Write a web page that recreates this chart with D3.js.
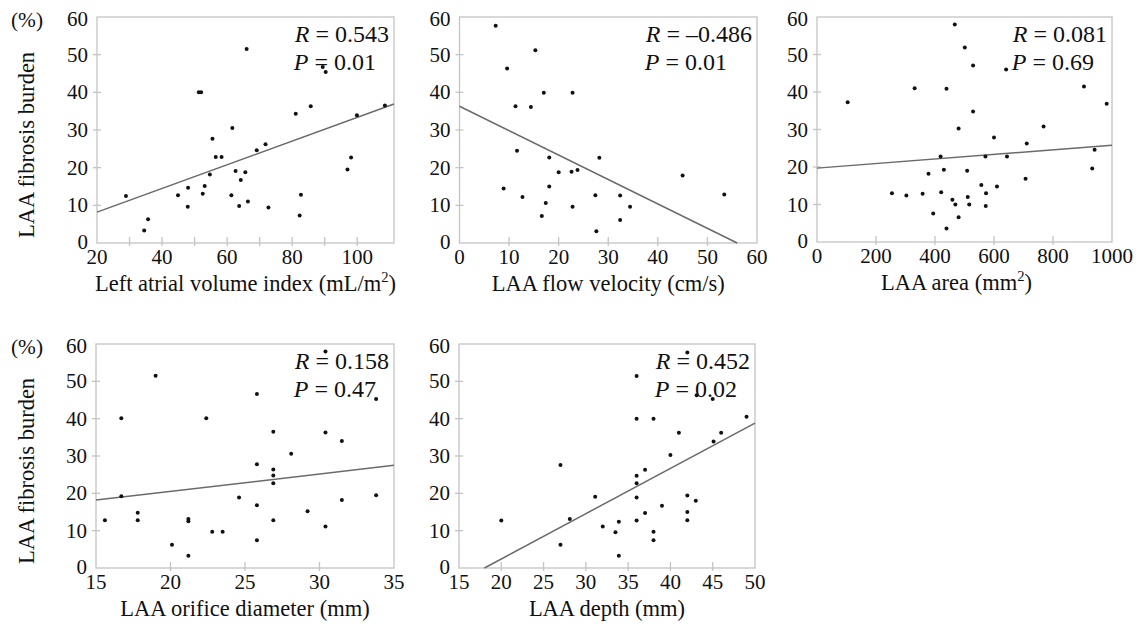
<!DOCTYPE html>
<html>
<head>
<meta charset="utf-8">
<script src="https://cdn.jsdelivr.net/npm/d3@7"></script>
<style>
  body { margin: 0; background: #fff; }
  svg { display: block; }
</style>
</head>
<body>
<svg id="chart" width="1143" height="636"></svg>
<script>
// ---- Data: LAA fibrosis burden (%) against each echocardiographic measure ----
const laviX = [28.9, 34.5, 35.7, 44.9, 48.0, 47.9, 51.3, 52.0, 52.5, 53.1, 54.7, 55.5, 56.5, 58.3, 61.6, 61.3, 62.6, 63.7, 64.2, 65.6, 66.0, 66.4, 69.1, 71.8, 72.7, 81.1, 82.3, 82.7, 85.7, 89.4, 90.3, 97.0, 98.1, 99.9, 108.5];
const laviY = [12.5, 3.3, 6.3, 12.7, 14.7, 9.6, 40.0, 40.0, 13.1, 15.1, 18.2, 27.7, 22.8, 22.8, 30.5, 12.7, 19.1, 9.8, 16.7, 18.8, 51.5, 11.0, 24.6, 26.2, 9.4, 34.3, 7.3, 12.8, 36.3, 46.7, 45.4, 19.5, 22.7, 33.9, 36.5];
const laviFit = [[20, 8.2], [111.3, 36.9]];

const flowX = [7.3, 9.6, 8.9, 11.3, 11.6, 12.7, 14.4, 15.3, 17.0, 18.1, 18.1, 17.4, 16.6, 20.0, 22.6, 23.8, 22.8, 22.8, 27.4, 27.6, 28.2, 32.4, 32.4, 34.4, 45.0, 53.4];
const flowY = [57.7, 46.3, 14.5, 36.3, 24.5, 12.2, 36.1, 51.2, 39.9, 22.7, 15.0, 10.6, 7.2, 18.8, 18.9, 19.4, 39.9, 9.6, 12.7, 3.1, 22.6, 12.6, 6.1, 9.6, 17.9, 12.9];
const flowFit = [[0, 36.3], [56.0, 0]];

const areaX = [104, 254, 303, 331, 358, 378, 394, 419, 421, 430, 439, 439, 459, 467, 469, 480, 480, 501, 509, 511, 516, 529, 529, 557, 571, 573, 572, 610, 600, 641, 644, 707, 711, 768, 905, 933, 941, 982];
const areaY = [37.3, 13.0, 12.4, 41.0, 12.9, 18.2, 7.6, 22.8, 13.3, 19.3, 40.9, 3.6, 11.3, 58.0, 10.0, 30.3, 6.6, 51.9, 19.0, 12.0, 10.0, 47.1, 34.8, 15.2, 22.8, 13.0, 9.6, 14.8, 27.9, 46.0, 22.8, 16.9, 26.3, 30.8, 41.5, 19.6, 24.6, 36.9];
const areaFit = [[0, 19.7], [1000, 25.8]];

const orificeX = [15.6, 16.7, 16.7, 17.8, 17.8, 19.0, 20.1, 21.2, 21.2, 21.2, 22.4, 22.8, 23.5, 24.6, 25.8, 25.8, 25.8, 25.8, 26.9, 26.9, 26.9, 26.9, 26.9, 28.1, 29.2, 30.4, 30.4, 30.4, 31.5, 31.5, 33.8, 33.8];
const orificeY = [12.8, 40.1, 19.2, 14.8, 12.8, 51.5, 6.2, 13.1, 12.5, 3.3, 40.1, 9.7, 9.7, 18.9, 46.6, 27.8, 16.8, 7.4, 36.5, 26.4, 24.8, 22.7, 12.8, 30.6, 15.2, 58.0, 36.3, 11.1, 34.0, 18.2, 45.3, 19.5];
const orificeFit = [[15, 18.2], [35, 27.5]];

const depthX = [20.0, 27.0, 27.0, 28.1, 31.1, 32.0, 33.5, 33.9, 33.9, 36.0, 36.0, 36.0, 36.0, 36.0, 36.0, 37.0, 37.0, 38.0, 38.0, 38.0, 39.0, 40.0, 41.0, 42.0, 42.0, 42.0, 42.0, 43.0, 43.1, 45.0, 45.1, 46.0, 49.0];
const depthY = [12.7, 27.6, 6.2, 13.1, 19.1, 11.1, 9.6, 12.4, 3.3, 51.4, 40.0, 24.7, 22.7, 18.9, 12.7, 26.3, 14.7, 40.0, 9.7, 7.4, 16.7, 30.3, 36.2, 19.4, 15.0, 12.8, 57.7, 18.0, 46.3, 45.3, 33.9, 36.2, 40.5];
const depthFit = [[18.0, 0], [50, 38.8]];

const rValues = ["0.543", "\u20130.486", "0.081", "0.158", "0.452"];
const pValues = ["0.01", "0.01", "0.69", "0.47", "0.02"];

const yTickValues = [10, 20, 30, 40, 50];
const yTickLabels = [0, 10, 20, 30, 40, 50, 60];
const yLabel = "LAA fibrosis burden";

// ---- Panel layout ----
const panels = [
  { xs: laviX, ys: laviY, fit: laviFit, r: rValues[0], p: pValues[0],
    xDomain: [20, 111.3], xTicks: [30, 40, 50, 60, 70, 80, 90, 100], xLabels: [20, 40, 60, 80, 100],
    title: [["Left atrial volume index (mL/m", false], ["2", true], [")", false]], titleShift: 0,
    box: { l: 97, r: 394, t: 17, b: 243 }, yTitle: true },
  { xs: flowX, ys: flowY, fit: flowFit, r: rValues[1], p: pValues[1],
    xDomain: [0, 60], xTicks: [10, 20, 30, 40, 50], xLabels: [0, 10, 20, 30, 40, 50, 60],
    title: [["LAA flow velocity (cm/s)", false]], titleShift: 0,
    box: { l: 459.5, r: 757, t: 17, b: 243 }, yTitle: false },
  { xs: areaX, ys: areaY, fit: areaFit, r: rValues[2], p: pValues[2],
    xDomain: [0, 1000], xTicks: [200, 400, 600, 800], xLabels: [0, 200, 400, 600, 800, 1000],
    title: [["LAA area (mm", false], ["2", true], [")", false]], titleShift: -8,
    box: { l: 817, r: 1112, t: 17, b: 242 }, yTitle: false },
  { xs: orificeX, ys: orificeY, fit: orificeFit, r: rValues[3], p: pValues[3],
    xDomain: [15, 35], xTicks: [20, 25, 30], xLabels: [15, 20, 25, 30, 35],
    title: [["LAA orifice diameter (mm)", false]], titleShift: 0,
    box: { l: 96, r: 394, t: 344, b: 568 }, yTitle: true },
  { xs: depthX, ys: depthY, fit: depthFit, r: rValues[4], p: pValues[4],
    xDomain: [15, 50], xTicks: [20, 25, 30, 35, 40, 45], xLabels: [15, 20, 25, 30, 35, 40, 45, 50],
    title: [["LAA depth (mm)", false]], titleShift: 0,
    box: { l: 459, r: 755, t: 344, b: 568 }, yTitle: false }
];

const serif = "'Liberation Serif', 'Times New Roman', 'DejaVu Serif', serif";
const svg = d3.select("#chart")
  .attr("font-family", serif);
svg.append("rect").attr("width", 1143).attr("height", 636).attr("fill", "#fff");

const frameColor = "#c4c4c4";
const ink = "#111";
const tickFont = 21, titleFont = 22.5, statFont = 24;

panels.forEach(pn => {
  const b = pn.box;
  const x = d3.scaleLinear().domain(pn.xDomain).range([b.l, b.r]);
  const y = d3.scaleLinear().domain([0, 60]).range([b.b, b.t]);
  const g = svg.append("g").attr("font-family", serif).attr("fill", ink);

  // plot frame
  g.append("rect")
    .attr("x", b.l).attr("y", b.t)
    .attr("width", b.r - b.l).attr("height", b.b - b.t)
    .attr("fill", "none").attr("stroke", frameColor).attr("stroke-width", 1.3);

  // x ticks (crossing the bottom edge) and labels
  g.selectAll(null).data(pn.xTicks).enter().append("line")
    .attr("x1", d => x(d)).attr("x2", d => x(d))
    .attr("y1", b.b - 6).attr("y2", b.b + 3)
    .attr("stroke", frameColor).attr("stroke-width", 1.3);
  g.selectAll(null).data(pn.xLabels).enter().append("text")
    .attr("x", d => x(d)).attr("y", b.b + 21)
    .attr("text-anchor", "middle").attr("font-size", tickFont)
    .text(d => d);

  // y ticks and labels
  g.selectAll(null).data(yTickValues).enter().append("line")
    .attr("x1", b.l - 4).attr("x2", b.l + 4)
    .attr("y1", d => y(d)).attr("y2", d => y(d))
    .attr("stroke", frameColor).attr("stroke-width", 1.3);
  g.selectAll(null).data(yTickLabels).enter().append("text")
    .attr("x", b.l - 9)
    .attr("y", d => y(d) + 7 + (d === 60 ? 2 : 0) - (d === 0 ? 1 : 0))
    .attr("text-anchor", "end").attr("font-size", tickFont)
    .text(d => d);

  // regression line
  g.append("line")
    .attr("x1", x(pn.fit[0][0])).attr("y1", y(pn.fit[0][1]))
    .attr("x2", x(pn.fit[1][0])).attr("y2", y(pn.fit[1][1]))
    .attr("stroke", "#6a6a6a").attr("stroke-width", 1.5);

  // observations
  g.selectAll(null).data(d3.zip(pn.xs, pn.ys)).enter().append("circle")
    .attr("cx", d => x(d[0])).attr("cy", d => y(d[1]))
    .attr("r", 2).attr("fill", "#111");

  // R / P annotation
  const rText = g.append("text")
    .attr("x", b.r - 5).attr("y", b.t + 25)
    .attr("text-anchor", "end").attr("font-size", statFont);
  rText.append("tspan").attr("font-style", "italic").text("R");
  rText.append("tspan").text(" = " + pn.r);
  const left = rText.node().getBBox().x;
  const pText = g.append("text")
    .attr("x", left).attr("y", b.t + 53).attr("font-size", statFont);
  pText.append("tspan").attr("font-style", "italic").text("P");
  pText.append("tspan").text(" = " + pn.p);

  // x-axis title
  const xt = g.append("text")
    .attr("x", (b.l + b.r) / 2 + pn.titleShift).attr("y", b.b + 48)
    .attr("text-anchor", "middle").attr("font-size", titleFont);
  pn.title.forEach(([s, sup]) => {
    const t = xt.append("tspan").text(s);
    if (sup) t.attr("font-size", titleFont * 0.65).attr("dy", -9);
    else if (s === ")") t.attr("dy", 9);
  });

  // y-axis title and unit
  if (pn.yTitle) {
    g.append("text")
      .attr("transform", `translate(34, ${(b.t + b.b) / 2 + 15}) rotate(-90)`)
      .attr("text-anchor", "middle").attr("font-size", titleFont)
      .text(yLabel);
    g.append("text")
      .attr("x", 11).attr("y", b.t + 10)
      .attr("font-size", titleFont * 0.95)
      .text("(%)");
  }
});
</script>
</body>
</html>
